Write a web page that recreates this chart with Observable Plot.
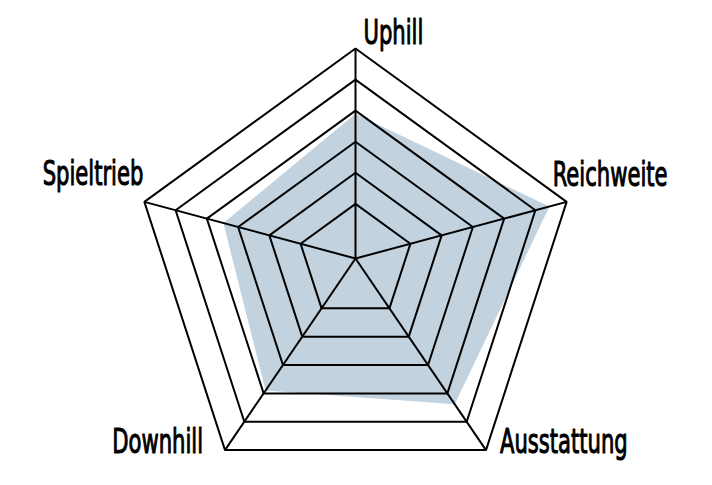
<!DOCTYPE html>
<html>
<head>
<meta charset="utf-8">
<script src="https://cdn.jsdelivr.net/npm/d3@7"></script>
<script src="https://cdn.jsdelivr.net/npm/@observablehq/plot@0.6"></script>
<style>
  html, body { margin: 0; padding: 0; background: #fff; }
  #chart svg text { font-family: "DejaVu Sans", sans-serif; }
</style>
</head>
<body>
<div id="chart"></div>
<script>
// Data
const axes = ["Uphill", "Reichweite", "Ausstattung", "Downhill", "Spieltrieb"];
const values = [3.9, 5.45, 4.38, 3.9, 3.47];
const rings = [1, 2, 3, 4, 5, 6];
const labelDx = [8, -14, 14, -22, -1];
const labelDy = [-4, -16, 3, 3, -17];
const labelAnchor = ["start", "start", "start", "end", "end"];

// Radial geometry
const tilt = 0.054;
const r = d3.scaleLinear().domain([-0.757, 6]).range([0, 1]);
const angle = (i) => (2 * Math.PI * i) / axes.length;
const pt = (i, v) => ({
  x: r(v) * Math.sin(angle(i)),
  y: r(v) * (-Math.cos(angle(i)) + tilt)
});

const area = axes.map((a, i) => ({axis: a, ...pt(i, values[i])}));
const grid = rings.flatMap((ring) => axes.map((a, i) => ({ring, ...pt(i, ring)})));
const spokes = axes.map((a, i) => {
  const o = pt(i, 6);
  const c = pt(i, r.domain()[0]);
  return {axis: a, x1: c.x, y1: c.y, x2: o.x, y2: o.y};
});
const labels = axes.map((a, i) => ({axis: a, i, ...pt(i, 6)}));

const R = 222;
const W = 712, H = 485, cx = 355, cy = 258;

const chart = Plot.plot({
  width: W,
  height: H,
  margin: 0,
  x: {domain: [-cx / R, (W - cx) / R], range: [0, W], axis: null},
  y: {domain: [-cy / R, (H - cy) / R], range: [0, H], axis: null},
  marks: [
    Plot.line(area, {x: "x", y: "y", curve: "linear-closed", fill: "#c2d2de", stroke: "none"}),
    Plot.line(grid, {x: "x", y: "y", z: "ring", curve: "linear-closed", stroke: "#000", strokeWidth: 2, strokeLinejoin: "miter"}),
    Plot.link(spokes, {x1: "x1", y1: "y1", x2: "x2", y2: "y2", stroke: "#000", strokeWidth: 2}),
    ...labels.map((d) =>
      Plot.text([d], {
        x: "x", y: "y", text: "axis",
        textAnchor: labelAnchor[d.i],
        lineAnchor: "bottom",
        dx: labelDx[d.i], dy: labelDy[d.i],
        fontSize: 33,
        fill: "#000",
        stroke: "#000",
        strokeWidth: 1.1,
        className: "axis-label"
      })
    )
  ]
});
document.getElementById("chart").appendChild(chart);

// condense label glyphs horizontally around their anchor point
const squeeze = 0.64;
chart.querySelectorAll("text").forEach((el) => {
  const t = el.getAttribute("transform") || "";
  const x = +(el.getAttribute("x") || 0);
  const y = +(el.getAttribute("y") || 0);
  el.removeAttribute("x");
  el.removeAttribute("y");
  el.setAttribute("transform", `${t} translate(${x},${y}) scale(${squeeze},1)`);
});
</script>
</body>
</html>
